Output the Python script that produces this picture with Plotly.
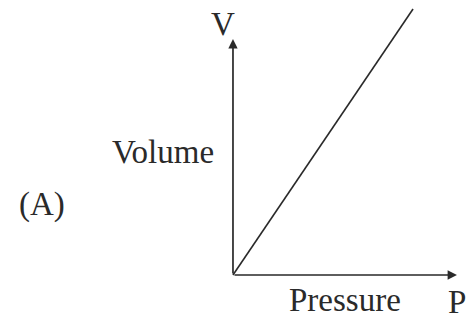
import plotly.graph_objects as go

# V proportional to P (arbitrary units)
pressure = [0.0, 1.0]
volume = [0.0, 1.478]

# axis arrow tips
x_axis_end = 1.244
y_axis_end = 1.311

# text labels
label_texts = ["V", "Volume", "(A)", "Pressure", "P"]
label_x = [-0.056, -0.39, -1.061, 0.622, 1.244]
label_y = [1.394, 0.683, 0.389, -0.14, -0.15]

ink = "#2a2a2a"
serif = "Liberation Serif, Times New Roman, serif"

fig = go.Figure()

fig.add_trace(
    go.Scatter(
        x=pressure,
        y=volume,
        mode="lines",
        line=dict(color=ink, width=1.6),
        showlegend=False,
        hoverinfo="skip",
    )
)

# axes as arrows from the origin
for tx, ty in [(x_axis_end, 0), (0, y_axis_end)]:
    fig.add_annotation(
        x=tx, y=ty, ax=0, ay=0,
        xref="x", yref="y", axref="x", ayref="y",
        showarrow=True, arrowhead=2, arrowsize=1.1, arrowwidth=1.7,
        arrowcolor=ink, text="",
    )

for t, lx, ly in zip(label_texts, label_x, label_y):
    fig.add_annotation(
        x=lx, y=ly, xref="x", yref="y", text=t, showarrow=False,
        font=dict(family=serif, size=33, color=ink),
    )

fig.update_xaxes(range=[-1.294, 1.322], visible=False, fixedrange=True)
fig.update_yaxes(range=[-0.2556, 1.528], visible=False, fixedrange=True)

fig.update_layout(
    width=471,
    height=321,
    margin=dict(l=0, r=0, t=0, b=0),
    paper_bgcolor="white",
    plot_bgcolor="white",
)

# drop the default body margin so the figure sits at the window corner
fig.write_html(
    "out.html",
    config={"displayModeBar": False},
    post_script="document.body.style.margin='0';",
)
